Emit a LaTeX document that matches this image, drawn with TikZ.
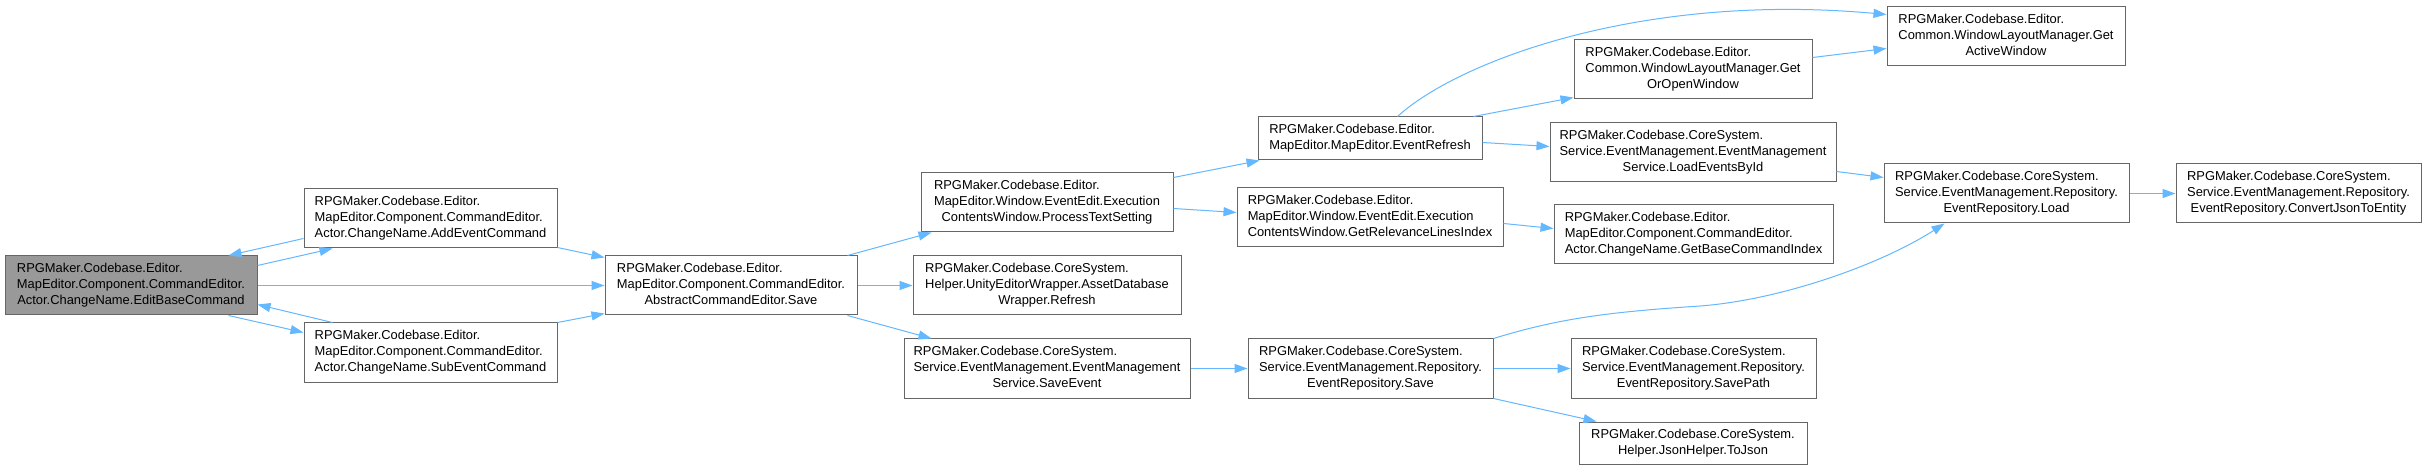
\documentclass[tikz,border=0pt]{standalone}
\usepackage{fontspec}
\setmainfont{Liberation Sans}
\usetikzlibrary{arrows.meta}
\definecolor{edgeblue}{HTML}{63B8FF}
\definecolor{boxline}{HTML}{666666}
\definecolor{hifill}{HTML}{999999}
\newcommand{\tb}[1]{\begin{tabular}{@{}l@{}}#1\end{tabular}}
\newcommand{\cl}[1]{\multicolumn{1}{@{}c@{}}{#1}}
\begin{document}
\begin{tikzpicture}[x=1pt,y=-1pt,
  box/.style={draw=boxline, line width=1pt, fill=white, rectangle, inner sep=0pt,
    font=\fontsize{12.9}{16}\selectfont, text=black},
  hibox/.style={box, fill=hifill},
  link/.style={draw=edgeblue, line width=1pt, -{Triangle[length=13pt,width=9pt]}}]
\fill[white] (0,0) rectangle (2426,470);
\useasboundingbox (0,0) rectangle (2426,470);

\node[hibox, minimum width=252pt, minimum height=59pt] (EB) at (131,285.5)
  {\tb{RPGMaker.Codebase.Editor.\\MapEditor.Component.CommandEditor.\\\cl{Actor.ChangeName.EditBaseCommand}}};
\node[box, minimum width=253pt, minimum height=59pt] (AE) at (430.5,218.5)
  {\tb{RPGMaker.Codebase.Editor.\\MapEditor.Component.CommandEditor.\\\cl{Actor.ChangeName.AddEventCommand}}};
\node[box, minimum width=253pt, minimum height=59pt] (SE) at (430.5,352.5)
  {\tb{RPGMaker.Codebase.Editor.\\MapEditor.Component.CommandEditor.\\\cl{Actor.ChangeName.SubEventCommand}}};
\node[box, minimum width=252pt, minimum height=59pt] (AS) at (731,285.5)
  {\tb{RPGMaker.Codebase.Editor.\\MapEditor.Component.CommandEditor.\\\cl{AbstractCommandEditor.Save}}};
\node[box, minimum width=252pt, minimum height=59pt] (PT) at (1047,202.5)
  {\tb{RPGMaker.Codebase.Editor.\\MapEditor.Window.EventEdit.Execution\\\cl{ContentsWindow.ProcessTextSetting}}};
\node[box, minimum width=268pt, minimum height=59pt] (RF) at (1047,285.5)
  {\tb{RPGMaker.Codebase.CoreSystem.\\Helper.UnityEditorWrapper.AssetDatabase\\\cl{Wrapper.Refresh}}};
\node[box, minimum width=286pt, minimum height=59pt] (SV) at (1047,368.5)
  {\tb{RPGMaker.Codebase.CoreSystem.\\Service.EventManagement.EventManagement\\\cl{Service.SaveEvent}}};
\node[box, minimum width=224pt, minimum height=43pt] (ER) at (1370,138.5)
  {\tb{RPGMaker.Codebase.Editor.\\\cl{MapEditor.MapEditor.EventRefresh}}};
\node[box, minimum width=266pt, minimum height=59pt] (GR) at (1370,217.5)
  {\tb{RPGMaker.Codebase.Editor.\\MapEditor.Window.EventEdit.Execution\\\cl{ContentsWindow.GetRelevanceLinesIndex}}};
\node[box, minimum width=245pt, minimum height=59pt] (RS) at (1370.5,368.5)
  {\tb{RPGMaker.Codebase.CoreSystem.\\Service.EventManagement.Repository.\\\cl{EventRepository.Save}}};
\node[box, minimum width=238pt, minimum height=59pt] (AW) at (2006,36.5)
  {\tb{RPGMaker.Codebase.Editor.\\Common.WindowLayoutManager.Get\\\cl{ActiveWindow}}};
\node[box, minimum width=238pt, minimum height=59pt] (GO) at (1693,69.5)
  {\tb{RPGMaker.Codebase.Editor.\\Common.WindowLayoutManager.Get\\\cl{OrOpenWindow}}};
\node[box, minimum width=286pt, minimum height=59pt] (LE) at (1693,152.5)
  {\tb{RPGMaker.Codebase.CoreSystem.\\Service.EventManagement.EventManagement\\\cl{Service.LoadEventsById}}};
\node[box, minimum width=279pt, minimum height=59pt] (GB) at (1693.5,234.5)
  {\tb{RPGMaker.Codebase.Editor.\\MapEditor.Component.CommandEditor.\\\cl{Actor.ChangeName.GetBaseCommandIndex}}};
\node[box, minimum width=245pt, minimum height=59pt] (LD) at (2006.5,193.5)
  {\tb{RPGMaker.Codebase.CoreSystem.\\Service.EventManagement.Repository.\\\cl{EventRepository.Load}}};
\node[box, minimum width=245pt, minimum height=59pt] (SP) at (1693.5,368.5)
  {\tb{RPGMaker.Codebase.CoreSystem.\\Service.EventManagement.Repository.\\\cl{EventRepository.SavePath}}};
\node[box, minimum width=228pt, minimum height=42pt] (TJ) at (1693,443)
  {\tb{RPGMaker.Codebase.CoreSystem.\\\cl{Helper.JsonHelper.ToJson}}};
\node[box, minimum width=245pt, minimum height=59pt] (CJ) at (2298.5,193.5)
  {\tb{RPGMaker.Codebase.CoreSystem.\\Service.EventManagement.Repository.\\\cl{EventRepository.ConvertJsonToEntity}}};

\draw[link] ([yshift=-10pt]EB.north east) -- ([xshift=29pt]AE.south west);
\draw[link] ([yshift=10pt]AE.south west) -- ([xshift=-29pt]EB.north east);
\draw[link] (EB.east) -- (AS.west);
\draw[link] ([xshift=-29pt]EB.south east) -- ([yshift=-10pt]SE.north west);
\draw[link] ([xshift=29pt]SE.north west) -- ([yshift=11pt]EB.south east);
\draw[link] ([yshift=1pt]AE.south east) -- ([yshift=-2pt]AS.north west);
\draw[link] (SE.north east) -- ([yshift=2pt]AS.south west);
\draw[link] ([xshift=-10pt]AS.north east) -- ([xshift=11pt]PT.south west);
\draw[link] (AS.east) -- (RF.west);
\draw[link] ([xshift=-10pt]AS.south east) -- ([xshift=28pt]SV.north west);
\draw[link] ([yshift=-5pt]PT.north east) -- ([xshift=2pt]ER.south west);
\draw[link] ([yshift=-6pt]PT.east) -- ([yshift=5pt]GR.west);
\draw[link] ([xshift=-85pt]ER.north east) .. controls (1457,62) and (1640,-8) .. ([yshift=-8pt]AW.north west);
\draw[link] ([xshift=-9pt]ER.north east) -- ([yshift=2pt]GO.south west);
\draw[link] ([yshift=-4pt]ER.east) -- ([yshift=6pt]LE.west);
\draw[link] ([yshift=12pt]GO.east) -- ([yshift=-12pt]AW.west);
\draw[link] ([yshift=11pt]LE.south east) -- ([yshift=-14pt]LD.north west);
\draw[link] ([yshift=-6pt]GR.east) -- ([yshift=6pt]GB.west);
\draw[link] (SV.east) -- (RS.west);
\draw[link] (RS.north east) .. controls (1560,318) and (1610,312) .. (1700,306)
  .. controls (1780,300) and (1880,265) .. ([xshift=61pt]LD.south west);
\draw[link] (RS.east) -- (SP.west);
\draw[link] (RS.south east) -- ([xshift=18pt]TJ.north west);
\draw[link] (LD.east) -- (CJ.west);
\end{tikzpicture}
\end{document}
